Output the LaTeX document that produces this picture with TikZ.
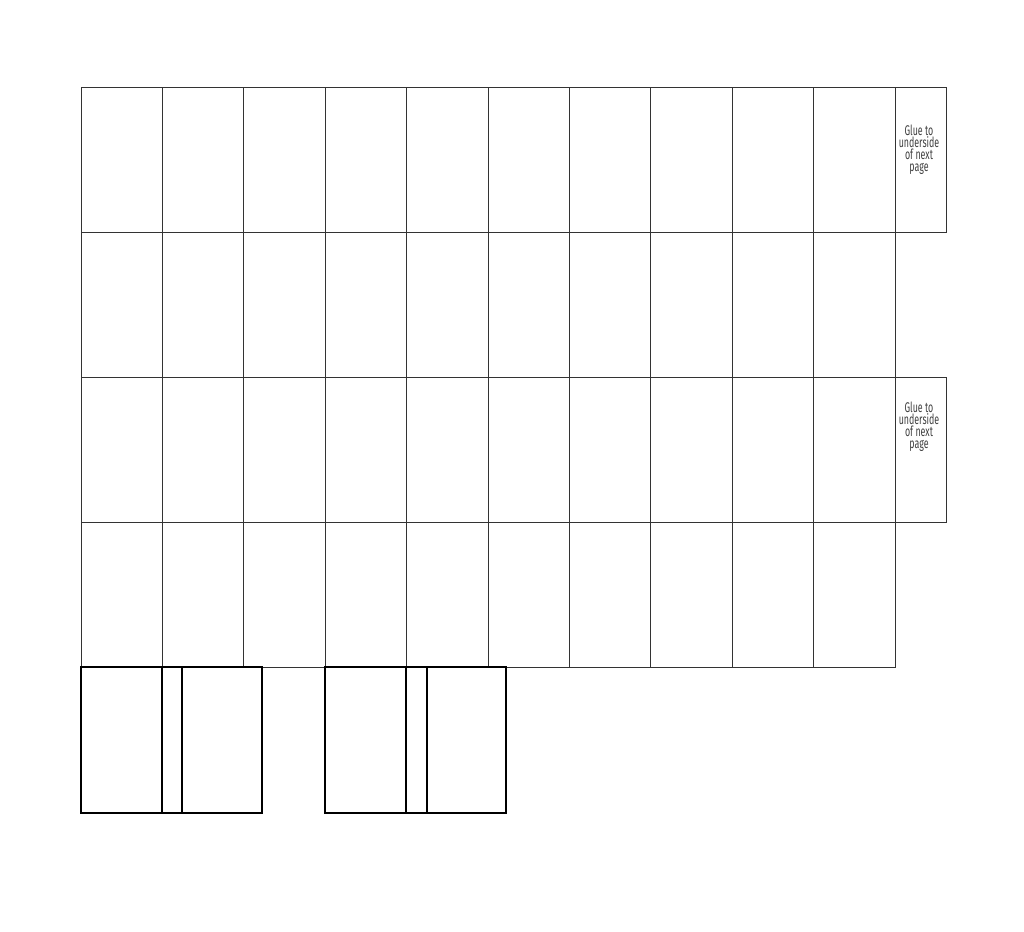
\documentclass[tikz,border=0pt]{standalone}
\usepackage{fontspec}
\newfontfamily\gluefont[FakeStretch=0.63]{Fira Sans}
\usepackage{tikz}

\begin{document}
\begin{tikzpicture}[x=0.02cm,y=-0.02cm,
  cell/.style={draw=black!80,line width=0.4pt},
  page/.style={draw=black,line width=1.1pt},
  glue/.style={align=center,font=\gluefont\fontsize{8}{6.9}\selectfont,text=black!75,inner sep=0pt}]
          \useasboundingbox (0,0) rectangle (1024,931);

          % Grid of pages
          \foreach \r in {0,...,3} {
            \foreach \c in {0,...,9} {
              \draw[cell] ({81+81.4*\c},{87+145*\r}) rectangle ({81+81.4*(\c+1)},{87+145*(\r+1)});
            }
          }

          % Glue tabs
          \foreach \r in {0,2} {
            \draw[cell] (895,{87+145*\r}) rectangle (946,{87+145*(\r+1)});
          }
          \node[glue] (tabA) at (919,150) {Glue to\\underside\\of next\\page};
          \node[glue] (tabB) at (919,427) {Glue to\\underside\\of next\\page};

          % Covers
          \draw[page] (81,667) rectangle (162,813);
          \draw[page] (162,667) rectangle (182,813);
          \draw[page] (182,667) rectangle (262,813);

          \draw[page] (325,667) rectangle (406,813);
          \draw[page] (406,667) rectangle (427,813);
          \draw[page] (427,667) rectangle (506,813);
        \end{tikzpicture}
\end{document}
